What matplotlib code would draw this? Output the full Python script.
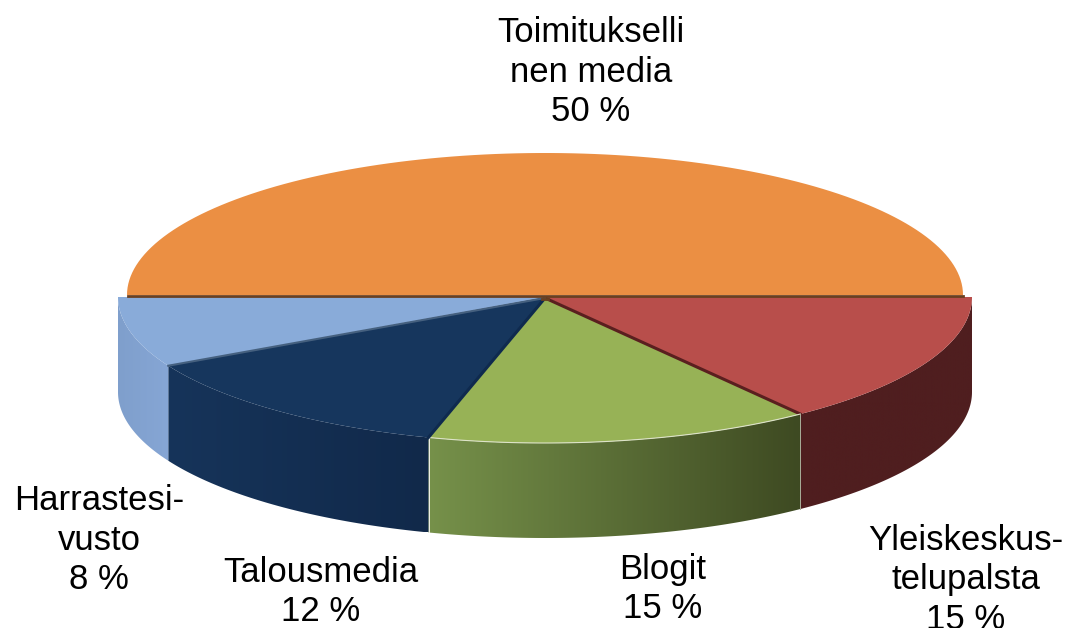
import numpy as np
import matplotlib
matplotlib.use("Agg")
import matplotlib.pyplot as plt
from matplotlib.colors import LinearSegmentedColormap
from matplotlib.patches import Polygon

labels = ["Yleiskeskus-\ntelupalsta\n15 %", "Blogit\n15 %", "Talousmedia\n12 %",
          "Harrastesi-\nvusto\n8 %", "Toimitukselli\nnen media\n50 %"]
# shares, the printed labels are rounded
values = [14.8, 14.6, 12.8, 7.8, 50]
top_colors = ["#B84E4B", "#97B256", "#16365D", "#89ABD9", "#EB8F43"]
side_left = ["#4F1E1F", "#76914A", "#16345A", "#7F9FCC", "#EB8F43"]
side_right = ["#4F1E1F", "#3E4A22", "#11294A", "#86A6D5", "#EB8F43"]
edge_colors = ["#5A1F1F", "#0F2A4E", "#45607F"]

plt.rcParams["font.family"] = ["Liberation Sans", "DejaVu Sans"]

fig = plt.figure(figsize=(10.66, 6.28), dpi=100)
ax = fig.add_axes([0, 0, 1, 1])
ax.axis("off")

cx = 545
depth = 95


def rim(a0, a1, rx, ry, cy):
    t = np.radians(np.linspace(a0, a1, 120))
    return cx + rx * np.cos(t), cy + ry * np.sin(t)


angles = np.cumsum([0] + values) * 3.6
for i, v in enumerate(values):
    a0, a1 = angles[i], angles[i + 1]
    # largest slice sits a bit smaller, lower ones are pulled out
    rx, ry, cy = (418, 142, 295) if i == 4 else (427, 146, 297)
    x, y = rim(a0, a1, rx, ry, cy)
    if i < 4:
        # side wall with a horizontal gradient
        wall = Polygon(np.r_[np.c_[x, y], np.c_[x[::-1], y[::-1] + depth]],
                       closed=True, fc="none", ec="none", zorder=i + 1)
        ax.add_patch(wall)
        cmap = LinearSegmentedColormap.from_list("s", [side_left[i], side_right[i]])
        grad = np.linspace(0, 1, 256).reshape(1, -1)
        im = ax.imshow(grad, cmap=cmap, aspect="auto", zorder=i + 1,
                       extent=[x.min(), x.max(), y.max() + depth, y.min()])
        im.set_clip_path(wall)
    ax.add_patch(Polygon(np.r_[[[cx, cy]], np.c_[x, y]], closed=True, fc=top_colors[i],
                         ec="none", zorder=6))
    # thin highlight along the green rim and its wall edges
    if i == 1:
        ax.plot(x, y, color="#DDE3C8", lw=0.8, zorder=7)
        ax.plot([x[0], x[0]], [y[0], y[0] + depth], color="#A8AE98", lw=0.7, zorder=7)
        ax.plot([x[-1] + 0.5, x[-1] + 0.5], [y[-1], y[-1] + depth], color="#F2F2EA", lw=0.7, zorder=5)
    # dark bevels between the lower slices
    if i < 3:
        ax.plot([cx, x[-1]], [cy + 1, y[-1]], color=edge_colors[i],
                lw=2.2 if i < 2 else 1.5, zorder=7)

ax.set_xlim(0, 1066)
ax.set_ylim(628, 0)
ax.plot([128, 963], [296, 296], color="#6A4020", lw=2, zorder=8)
ax.plot([542, 548], [299, 299], color="#6A4020", lw=2, zorder=8)

label_pos = [(966, 580), (663, 589), (321, 592), (99, 540), (591, 72)]
for s, (lx, ly) in zip(labels, label_pos):
    ax.text(lx, ly, s, ha="center", va="center", fontsize=25, color="black",
            linespacing=1.26, zorder=9)

fig.savefig("out.png", dpi=100)
